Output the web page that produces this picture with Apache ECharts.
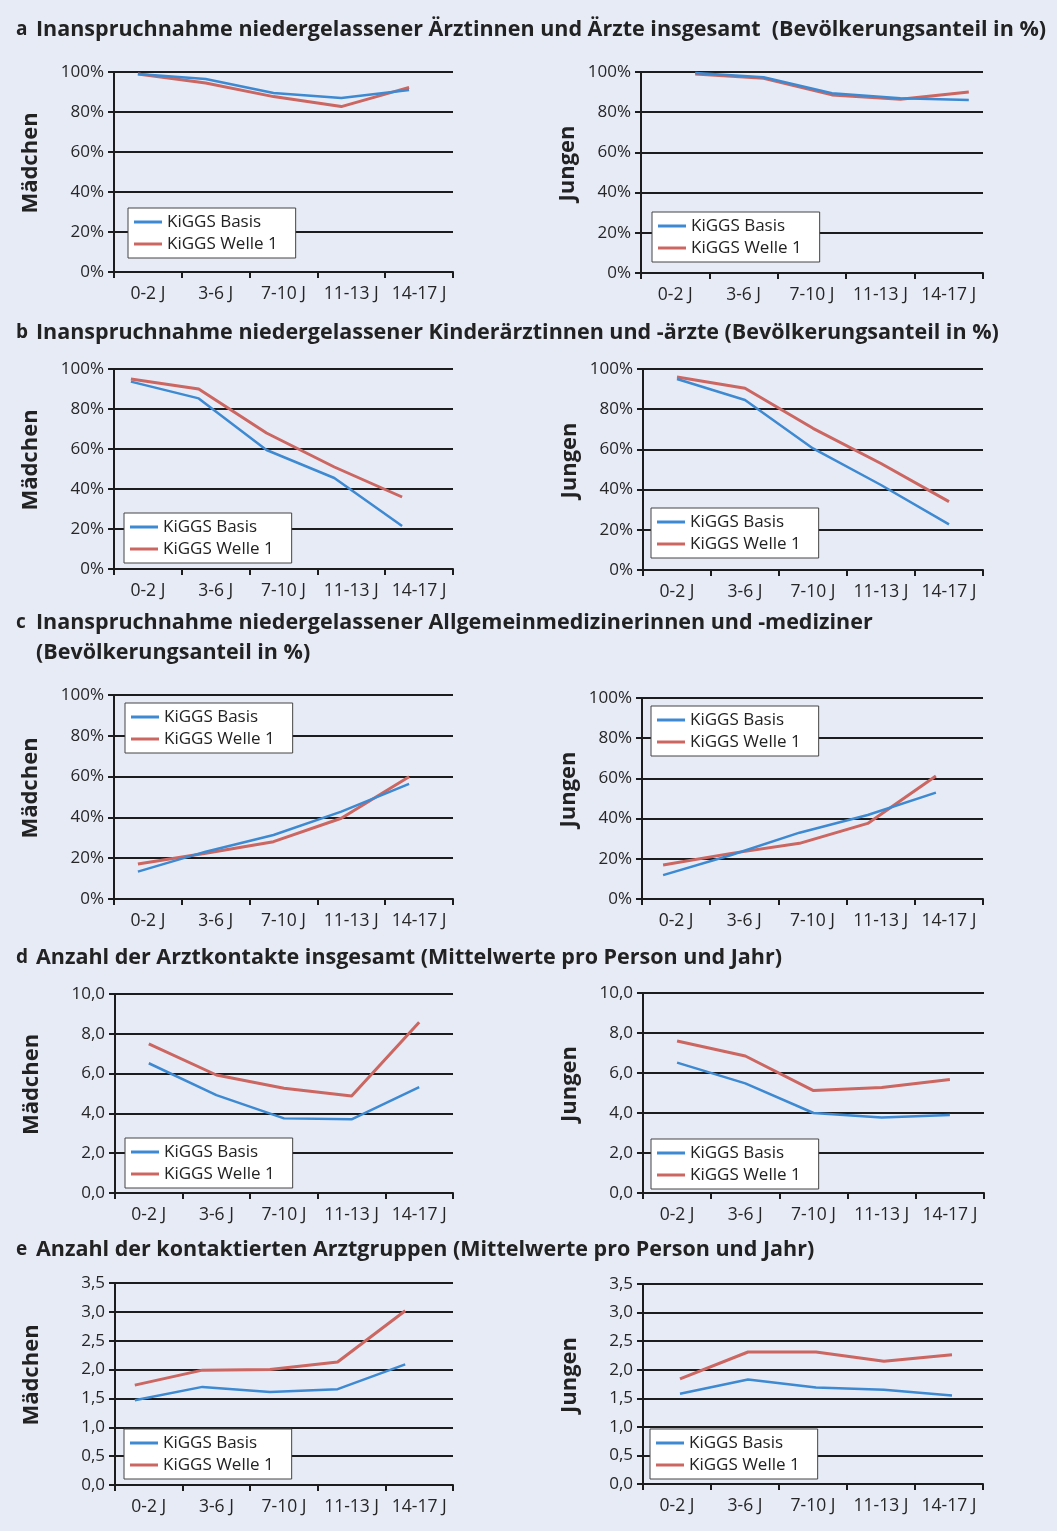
<!DOCTYPE html>
<html>
<head>
<meta charset="utf-8">
<script src="https://cdn.jsdelivr.net/npm/echarts@6/dist/echarts.min.js"></script>
<style>
html,body{margin:0;padding:0;background:#e7ebf6;}
#chart{width:1057px;height:1531px;}
</style>
</head>
<body>
<div id="chart"></div>
<script>
// ---------- DATA ----------
const categories = ['0-2 J', '3-6 J', '7-10 J', '11-13 J', '14-17 J'];
const seriesNames = ['KiGGS Basis', 'KiGGS Welle 1'];
const groupNames = ['Mädchen', 'Jungen'];

// a: Inanspruchnahme niedergelassener Ärztinnen und Ärzte insgesamt (%)
const aGirlsBasis = [99, 96.5, 89.5, 87, 91];
const aGirlsWelle = [99, 94.5, 87.7, 82.7, 92.3];
const aBoysBasis  = [99.5, 97.4, 89.4, 86.9, 86.1];
const aBoysWelle  = [99, 96.9, 88.6, 86.4, 90];
// b: Kinderärztinnen und -ärzte (%)
const bGirlsBasis = [93.7, 85.3, 59.5, 45.5, 21.5];
const bGirlsWelle = [95, 90, 68, 51, 36];
const bBoysBasis  = [95, 84.6, 60.5, 42.3, 22.7];
const bBoysWelle  = [96, 90.4, 70.5, 53, 34];
// c: Allgemeinmedizinerinnen und -mediziner (%)
const cGirlsBasis = [13.4, 23.2, 31.4, 42.8, 56.4];
const cGirlsWelle = [17.2, 22.4, 28.1, 39.6, 59.9];
const cBoysBasis  = [11.9, 21.9, 33, 41.8, 52.9];
const cBoysWelle  = [16.9, 22.7, 27.7, 37.6, 61.2];
// d: Anzahl der Arztkontakte insgesamt
const dGirlsBasis = [6.52, 4.92, 3.75, 3.70, 5.32];
const dGirlsWelle = [7.49, 5.93, 5.26, 4.87, 8.58];
const dBoysBasis  = [6.52, 5.48, 4.0, 3.78, 3.9];
const dBoysWelle  = [7.6, 6.85, 5.12, 5.28, 5.68];
// e: Anzahl der kontaktierten Arztgruppen
const eGirlsBasis = [1.47, 1.70, 1.61, 1.66, 2.09];
const eGirlsWelle = [1.73, 1.99, 2.0, 2.13, 3.02];
const eBoysBasis  = [1.58, 1.83, 1.69, 1.65, 1.55];
const eBoysWelle  = [1.84, 2.31, 2.31, 2.15, 2.26];

const titleLetters = ['a', 'b', 'c', 'd', 'e'];
const titleTexts = [
  'Inanspruchnahme niedergelassener Ärztinnen und Ärzte insgesamt  (Bevölkerungsanteil in %)',
  'Inanspruchnahme niedergelassener Kinderärztinnen und -ärzte (Bevölkerungsanteil in %)',
  'Inanspruchnahme niedergelassener Allgemeinmedizinerinnen und -mediziner\n(Bevölkerungsanteil in %)',
  'Anzahl der Arztkontakte insgesamt (Mittelwerte pro Person und Jahr)',
  'Anzahl der kontaktierten Arztgruppen (Mittelwerte pro Person und Jahr)'
];

// ---------- LAYOUT / STYLE ----------
const FONT = '"Open Sans", "Noto Sans", sans-serif';
const BLUE = '#3d89d2';
const RED = '#cb6661';
const INK = '#1c1c1c';

const panels = [
  {basis: aGirlsBasis, welle: aGirlsWelle, g: 0, kind: 'pct', grid: [114, 72, 339, 200], legend: [128, 208], shift: -10},
  {basis: aBoysBasis,  welle: aBoysWelle,  g: 1, kind: 'pct', grid: [641, 72, 342, 201], legend: [652, 212], shift: 20},
  {basis: bGirlsBasis, welle: bGirlsWelle, g: 0, kind: 'pct', grid: [114, 369, 339, 200], legend: [124, 513], shift: -17},
  {basis: bBoysBasis,  welle: bBoysWelle,  g: 1, kind: 'pct', grid: [643, 369, 340, 201], legend: [651, 508], shift: 0},
  {basis: cGirlsBasis, welle: cGirlsWelle, g: 0, kind: 'pct', grid: [114, 695, 339, 204], legend: [125, 703], shift: -10},
  {basis: cBoysBasis,  welle: cBoysWelle,  g: 1, kind: 'pct', grid: [642, 698, 341, 201], legend: [651, 706], shift: -13},
  {basis: dGirlsBasis, welle: dGirlsWelle, g: 0, kind: 'cnt', grid: [115, 994, 338, 199], legend: [125, 1138], shift: 0},
  {basis: dBoysBasis,  welle: dBoysWelle,  g: 1, kind: 'cnt', grid: [643, 993, 341, 200], legend: [651, 1139], shift: 0},
  {basis: eGirlsBasis, welle: eGirlsWelle, g: 0, kind: 'grp', grid: [115, 1283, 338, 202], legend: [124, 1429], shift: -14},
  {basis: eBoysBasis,  welle: eBoysWelle,  g: 1, kind: 'grp', grid: [643, 1284, 340, 200], legend: [650, 1429], shift: 3}
];
const yScales = {
  pct: {min: 0, max: 100, interval: 20, fmt: v => v + '%'},
  cnt: {min: 0, max: 10, interval: 2, fmt: v => v.toFixed(1).replace('.', ',')},
  grp: {min: 0, max: 3.5, interval: 0.5, fmt: v => v.toFixed(1).replace('.', ',')}
};
const titleY = [30, 333, 623, 958, 1250];

const grids = [], xAxes = [], yAxes = [], series = [], legends = [], graphics = [];
panels.forEach((p, i) => {
  const [l, t, w, h] = p.grid;
  grids.push({left: l, top: t, width: w, height: h, containLabel: false});
  // visible category axis (labels + ticks)
  xAxes.push({
    type: 'category', gridIndex: i, data: categories, boundaryGap: true,
    axisLine: {onZero: false, lineStyle: {color: INK, width: 2}},
    axisTick: {show: true, length: 6, lineStyle: {color: INK, width: 2}},
    axisLabel: {color: '#262626', fontSize: 17.5, fontFamily: FONT, margin: 13, interval: 0},
    splitLine: {show: false}
  });
  // hidden value axis that carries the lines (slightly shifted as in the original)
  const s = p.shift / (w / categories.length);
  xAxes.push({
    type: 'value', gridIndex: i, min: -0.5 - s, max: 4.5 - s, show: false,
    axisLine: {onZero: false}, splitLine: {show: false}
  });
  const ys = yScales[p.kind];
  yAxes.push({
    type: 'value', gridIndex: i, min: ys.min, max: ys.max, interval: ys.interval,
    name: groupNames[p.g], nameLocation: 'middle', nameRotate: 90,
    nameGap: p.g === 0 ? 72 : 62,
    nameTextStyle: {fontSize: 22, fontWeight: 'bold', color: '#222', fontFamily: FONT, padding: [0, 0, 0, 18]},
    axisLine: {show: true, onZero: false, lineStyle: {color: INK, width: 2}},
    axisTick: {show: true, length: 6, lineStyle: {color: INK, width: 2}},
    axisLabel: {color: '#262626', fontSize: 17, fontFamily: FONT, margin: 10, formatter: ys.fmt},
    splitLine: {show: true, lineStyle: {color: INK, width: 2}}
  });
  const xi = i * 2 + 1;
  series.push({
    name: seriesNames[0], type: 'line', xAxisIndex: xi, yAxisIndex: i,
    data: p.basis.map((v, j) => [j, v]), symbol: 'none',
    lineStyle: {color: BLUE, width: 2.5}, itemStyle: {color: BLUE}, z: 3
  });
  series.push({
    name: seriesNames[1], type: 'line', xAxisIndex: xi, yAxisIndex: i,
    data: p.welle.map((v, j) => [j, v]), symbol: 'none',
    lineStyle: {color: RED, width: 3}, itemStyle: {color: RED}, z: 2
  });
  legends.push({
    left: p.legend[0], top: p.legend[1], orient: 'vertical',
    data: seriesNames.map(n => ({name: n, icon: 'rect'})),
    itemWidth: 28, itemHeight: 3, itemGap: 2,
    backgroundColor: '#ffffff', borderColor: '#444', borderWidth: 1,
    padding: [4, 18, 4, 6], selectedMode: false,
    textStyle: {fontSize: 17, color: '#222', fontFamily: FONT, lineHeight: 20}
  });
});

titleTexts.forEach((txt, i) => {
  graphics.push({
    type: 'text', left: 16, top: titleY[i] - 15,
    style: {text: titleLetters[i], font: 'bold 19px ' + FONT, fill: '#222', lineHeight: 30}
  });
  graphics.push({
    type: 'text', left: 36, top: titleY[i] - 15,
    style: {text: txt, font: 'bold 21.5px ' + FONT, fill: '#222', lineHeight: 30}
  });
});

const chart = echarts.init(document.getElementById('chart'), null, {renderer: 'canvas'});
chart.setOption({
  backgroundColor: '#e7ebf6',
  animation: false,
  grid: grids, xAxis: xAxes, yAxis: yAxes, series: series, legend: legends,
  graphic: graphics
});
</script>
</body>
</html>
